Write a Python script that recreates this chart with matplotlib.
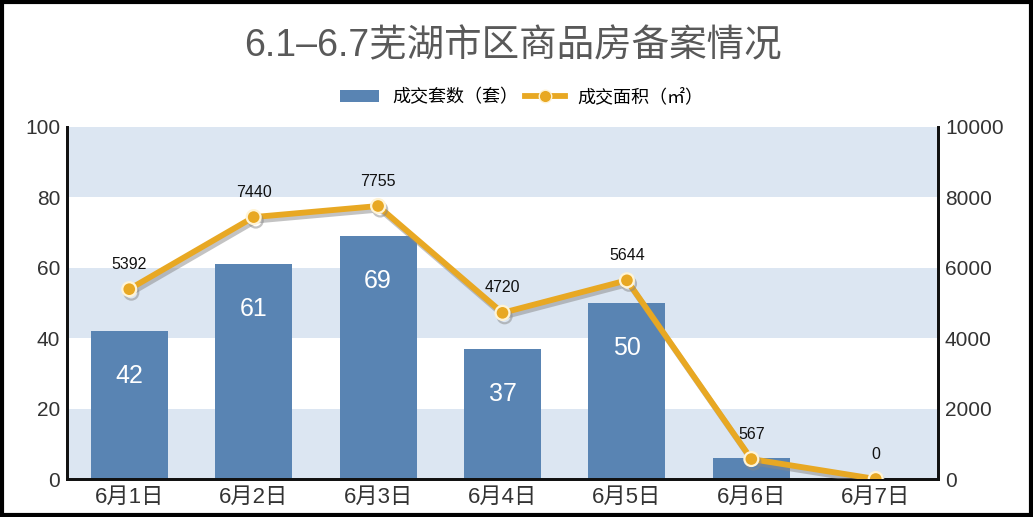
import matplotlib
matplotlib.use("Agg")
import matplotlib.pyplot as plt
from matplotlib.lines import Line2D
from matplotlib.patches import Patch, Rectangle
import matplotlib.patheffects as pe

plt.rcParams['font.family'] = ['Liberation Sans', 'Noto Sans CJK SC', 'DejaVu Sans']

categories = ["6月1日", "6月2日", "6月3日", "6月4日", "6月5日", "6月6日", "6月7日"]
units = [42, 61, 69, 37, 50, 6, 0]
area = [5392, 7440, 7755, 4720, 5644, 567, 0]
left_ticks = [0, 20, 40, 60, 80, 100]
right_ticks = [0, 2000, 4000, 6000, 8000, 10000]

bar_color = "#5984b3"
line_color = "#e8a823"
stripe_color = "#dce6f2"

fig = plt.figure(figsize=(10.33, 5.17), dpi=100)
ax = fig.add_axes([0.0649, 0.0735, 0.8431, 0.6809])
ax2 = ax.twinx()

x = list(range(len(categories)))
ax.set_xlim(-0.5, len(categories) - 0.5)
ax.set_ylim(0, 100)
ax2.set_ylim(0, 10000)

for lo in (0, 40, 80):
    ax.axhspan(lo, lo + 20, color=stripe_color, zorder=0, lw=0)

bars = ax.bar(x, units, width=0.62, color=bar_color, zorder=2)
for xi, v in zip(x, units):
    if v >= 20:
        ax.annotate(str(v), (xi, v), xytext=(0, -45), textcoords="offset pixels",
                    ha="center", va="center", color="white", fontsize=18, zorder=3)

ax2.plot(x, area, color=line_color, lw=4.2, marker="o", markersize=10,
         markerfacecolor=line_color, markeredgecolor="#fff4d6", markeredgewidth=1.6,
         solid_capstyle="round", zorder=4,
         path_effects=[pe.SimpleLineShadow(offset=(1.5, -2.5), shadow_color="#888888", alpha=0.5),
                       pe.Normal()])
for xi, v in zip(x, area):
    ax2.annotate(str(v), (xi, v), xytext=(0, 25), textcoords="offset pixels",
                 ha="center", va="center", color="#111111", fontsize=11.5)

ax.set_xticks(x)
ax.set_xticklabels(categories, fontsize=16, color="#333333")
ax.set_yticks(left_ticks)
ax.set_yticklabels([str(t) for t in left_ticks], fontsize=15, color="#333333")
ax2.set_yticks(right_ticks)
ax2.set_yticklabels([str(t) for t in right_ticks], fontsize=15, color="#333333")
ax.tick_params(axis="y", length=0, pad=5)
ax.tick_params(axis="x", length=0, pad=6)
ax2.tick_params(axis="both", length=0, pad=5)

for a in (ax, ax2):
    a.spines["top"].set_visible(False)
    for s in ("left", "right", "bottom"):
        a.spines[s].set_color("#111111")
        a.spines[s].set_linewidth(2)

fig.text(0.497, 0.91, "6.1–6.7芜湖市区商品房备案情况", ha="center", va="center",
         fontsize=27, color="#595959")

handles = [Patch(facecolor=bar_color, edgecolor="none"),
           Line2D([0], [0], color=line_color, lw=4.2, marker="o", markersize=9,
                  markerfacecolor=line_color, markeredgecolor="#fff4d6")]
fig.legend(handles, ["成交套数（套）", "成交面积（㎡）"], loc="center",
           bbox_to_anchor=(0.505, 0.812), ncol=2, frameon=False,
           handlelength=2.2, handleheight=0.7, columnspacing=0.4, handletextpad=0.7,
           prop={'family': ['Noto Sans CJK SC'], 'size': 13})

fig.patches.append(Rectangle((0.002, 0.004), 0.996, 0.992, transform=fig.transFigure,
                             fill=False, edgecolor="black", lw=3))

fig.savefig("out.png", dpi=100)
